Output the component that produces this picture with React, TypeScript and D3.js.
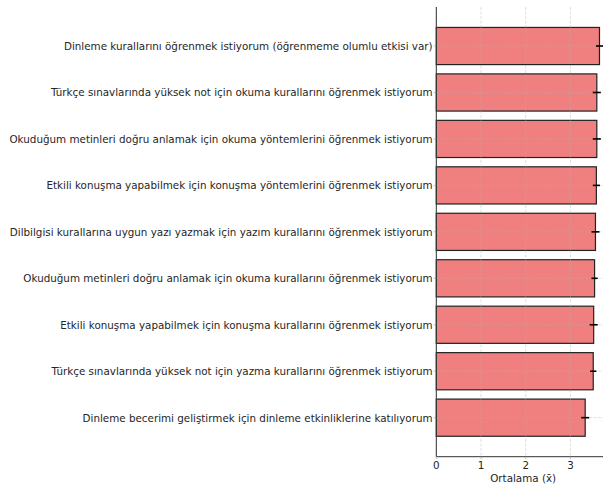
import React from "react";
import * as d3 from "d3";

const categories: string[] = [
  "Dinleme kurallarını öğrenmek istiyorum (öğrenmeme olumlu etkisi var)",
  "Türkçe sınavlarında yüksek not için okuma kurallarını öğrenmek istiyorum",
  "Okuduğum metinleri doğru anlamak için okuma yöntemlerini öğrenmek istiyorum",
  "Etkili konuşma yapabilmek için konuşma yöntemlerini öğrenmek istiyorum",
  "Dilbilgisi kurallarına uygun yazı yazmak için yazım kurallarını öğrenmek istiyorum",
  "Okuduğum metinleri doğru anlamak için okuma kurallarını öğrenmek istiyorum",
  "Etkili konuşma yapabilmek için konuşma kurallarını öğrenmek istiyorum",
  "Türkçe sınavlarında yüksek not için yazma kurallarını öğrenmek istiyorum",
  "Dinleme becerimi geliştirmek için dinleme etkinliklerine katılıyorum",
];
const means: number[] = [3.65, 3.59, 3.59, 3.58, 3.56, 3.54, 3.52, 3.51, 3.33];
const errors: number[] = [0.08, 0.09, 0.09, 0.08, 0.09, 0.07, 0.09, 0.07, 0.09];
const xTicks: number[] = [0, 1, 2, 3];
const xLabel = "Ortalama (x̄)";

const W = 603;
const H = 487;
const left = 436.3;
const right = 610;
const top = 7;
const bottom = 456.7;

export default function App() {
  const x = d3.scaleLinear().domain([0, 3.885]).range([left, right]);
  const y = d3
    .scaleBand<string>()
    .domain(categories)
    .range([top, bottom])
    .paddingInner(0.2)
    .paddingOuter(0.44);
  const font = "'DejaVu Sans', sans-serif";
  const fs = 10.35;
  return (
    <svg
      width={W}
      height={H}
      style={{ position: "absolute", left: 0, top: 0, background: "#fff" }}
      fontFamily={font}
    >
      {categories.map((c, i) => {
        const y0 = y(c)!;
        const bw = y.bandwidth();
        return (
          <rect
            key={c}
            x={x(0)}
            y={y0}
            width={x(means[i]) - x(0)}
            height={bw}
            fill="#f08080"
            stroke="#222"
            strokeWidth={1.2}
          />
        );
      })}
      {xTicks.map((t) => (
        <line
          key={"gx" + t}
          x1={x(t)}
          x2={x(t)}
          y1={top}
          y2={bottom}
          stroke="#b0b0b0"
          strokeOpacity={0.5}
          strokeWidth={0.8}
          strokeDasharray="3,1.5"
        />
      ))}
      {categories.map((c) => {
        const cy = y(c)! + y.bandwidth() / 2;
        return (
          <line
            key={"gy" + c}
            x1={left}
            x2={W}
            y1={cy}
            y2={cy}
            stroke="#b0b0b0"
            strokeOpacity={0.5}
            strokeWidth={0.8}
            strokeDasharray="3,1.5"
          />
        );
      })}
      {categories.map((c, i) => {
        const cy = y(c)! + y.bandwidth() / 2;
        return (
          <line
            key={"e" + c}
            x1={x(means[i] - errors[i])}
            x2={x(means[i] + errors[i])}
            y1={cy}
            y2={cy}
            stroke="#000"
            strokeWidth={1.6}
          />
        );
      })}
      {categories.map((c) => {
        const cy = y(c)! + y.bandwidth() / 2;
        return (
          <g key={"l" + c}>
            <line x1={left - 2.5} x2={left} y1={cy} y2={cy} stroke="#aaa" strokeWidth={0.8} />
            <text
              x={left - 3.7}
              y={cy}
              textAnchor="end"
              dominantBaseline="central"
              fontSize={fs}
              fill="#262626"
            >
              {c}
            </text>
          </g>
        );
      })}
      <line x1={left} x2={left} y1={top} y2={bottom} stroke="#333" strokeWidth={1} />
      <line x1={left} x2={right} y1={bottom} y2={bottom} stroke="#333" strokeWidth={1} />
      {xTicks.map((t) => (
        <g key={"xt" + t}>
          <line x1={x(t)} x2={x(t)} y1={bottom} y2={bottom + 2.5} stroke="#aaa" strokeWidth={0.8} />
          <text
            x={x(t)}
            y={bottom + 4}
            textAnchor="middle"
            dominantBaseline="hanging"
            fontSize={fs}
            fill="#262626"
          >
            {t}
          </text>
        </g>
      ))}
      <text
        x={(left + right) / 2}
        y={478}
        textAnchor="middle"
        dominantBaseline="central"
        fontSize={fs}
        fill="#262626"
      >
        {xLabel}
      </text>
    </svg>
  );
}
